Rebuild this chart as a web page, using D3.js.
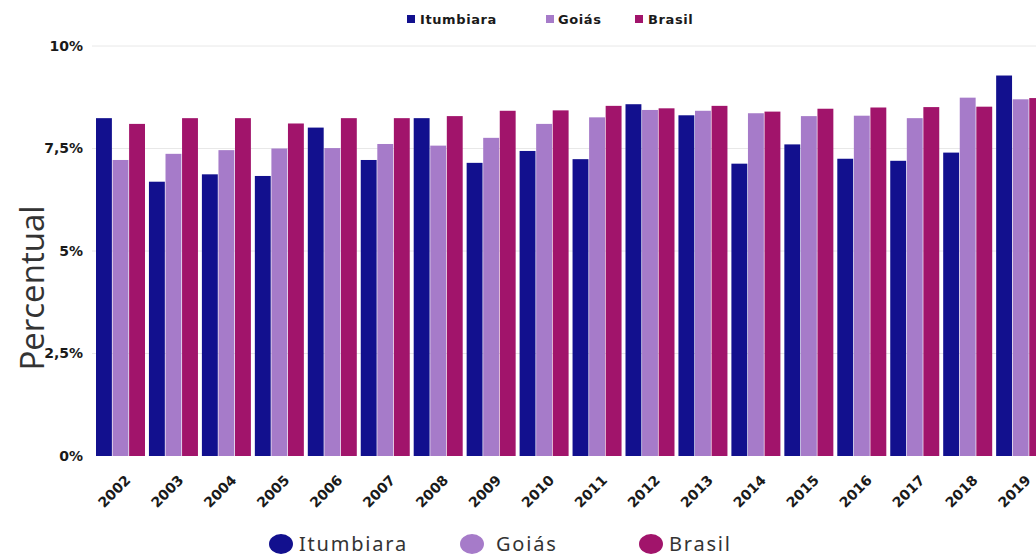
<!DOCTYPE html>
<html>
<head>
<meta charset="utf-8">
<script src="https://cdn.jsdelivr.net/npm/d3@7"></script>
<style>
  html, body { margin: 0; padding: 0; background: #ffffff; overflow: hidden; }
  svg { display: block; }
</style>
</head>
<body>
<svg id="chart" width="1036" height="557"></svg>
<script>
// Annual percentage by year for Itumbiara, Goiás and Brasil
const years = ["2002","2003","2004","2005","2006","2007","2008","2009","2010",
               "2011","2012","2013","2014","2015","2016","2017","2018","2019"];
const seriesNames = ["Itumbiara", "Goiás", "Brasil"];
const itumbiara = [8.24, 6.69, 6.87, 6.83, 8.01, 7.22, 8.24, 7.15, 7.44,
                   7.24, 8.58, 8.31, 7.13, 7.60, 7.25, 7.20, 7.40, 9.28];
const goias     = [7.22, 7.37, 7.46, 7.50, 7.51, 7.61, 7.57, 7.76, 8.10,
                   8.26, 8.44, 8.42, 8.36, 8.29, 8.30, 8.24, 8.74, 8.70];
const brasil    = [8.10, 8.24, 8.24, 8.11, 8.24, 8.24, 8.29, 8.42, 8.43,
                   8.54, 8.48, 8.54, 8.40, 8.47, 8.50, 8.51, 8.52, 8.73];
const yTicks = [0, 2.5, 5, 7.5, 10];
const yTickLabels = ["0%", "2,5%", "5%", "7,5%", "10%"];
const colors = ["#12108e", "#a67bc9", "#a1146b"];

const values = [itumbiara, goias, brasil];
const rows = years.map((yr, i) => ({
  year: yr,
  vals: seriesNames.map((s, k) => ({ key: s, value: values[k][i] }))
}));

const svg = d3.select("#chart");

// Plot area (the band range runs past the right edge of the canvas)
const left = 96, step = 52.95, groupW = 49;
const x0 = d3.scaleBand()
  .domain(years)
  .range([left, left + (years.length - 1) * step + groupW])
  .paddingInner((step - groupW) / step)
  .paddingOuter(0);
const x1 = d3.scaleBand()
  .domain(seriesNames)
  .range([0, x0.bandwidth()])
  .paddingInner(0.04);
const y = d3.scaleLinear().domain([0, 10]).range([456, 46]);
const color = d3.scaleOrdinal().domain(seriesNames).range(colors);

// Gridlines
svg.append("g")
  .selectAll("line")
  .data(yTicks.filter(t => t > 0))
  .join("line")
  .attr("x1", 92).attr("x2", 1036)
  .attr("y1", d => y(d)).attr("y2", d => y(d))
  .attr("stroke", "#e8e8e8").attr("stroke-width", 1);

// Y axis labels
const yAxis = d3.axisLeft(y)
  .tickValues(yTicks)
  .tickFormat((d, i) => yTickLabels[i])
  .tickSize(0)
  .tickPadding(0);
const gy = svg.append("g").attr("transform", "translate(83,0)").call(yAxis);
gy.select(".domain").remove();
gy.selectAll("text")
  .attr("fill", "#1a1a1a")
  .style("font-family", "'DejaVu Sans', sans-serif")
  .style("font-weight", "bold")
  .style("font-size", "14px");

// Bars
svg.append("g")
  .selectAll("g")
  .data(rows)
  .join("g")
  .attr("transform", d => `translate(${x0(d.year)},0)`)
  .selectAll("rect")
  .data(d => d.vals)
  .join("rect")
  .attr("x", d => x1(d.key))
  .attr("width", x1.bandwidth())
  .attr("y", d => y(d.value))
  .attr("height", d => y(0) - y(d.value))
  .attr("fill", d => color(d.key));

// X axis labels, rotated
const xAxis = d3.axisBottom(x0).tickSize(0).tickPadding(0);
const gx = svg.append("g").attr("transform", "translate(0,481)").call(xAxis);
gx.select(".domain").remove();
gx.selectAll("text")
  .attr("fill", "#1a1a1a")
  .attr("text-anchor", "end")
  .attr("y", 0)
  .attr("dy", "0")
  .attr("transform", "translate(11,0) rotate(-45)")
  .style("font-family", "'DejaVu Sans', sans-serif")
  .style("font-weight", "bold")
  .style("font-size", "14px");

// Y axis title
svg.append("text")
  .attr("transform", "translate(44,288) rotate(-90)")
  .attr("text-anchor", "middle")
  .attr("fill", "#333333")
  .style("font-family", "'Open Sans', sans-serif")
  .style("font-size", "33px")
  .text("Percentual");

// Top legend: small squares with bold labels
const topLegend = [
  { key: "Itumbiara", sq: 407, tx: 420 },
  { key: "Goiás", sq: 546, tx: 558 },
  { key: "Brasil", sq: 635, tx: 648 }
];
const tl = svg.append("g");
tl.selectAll("rect")
  .data(topLegend)
  .join("rect")
  .attr("x", d => d.sq).attr("y", 15)
  .attr("width", 8).attr("height", 8)
  .attr("fill", d => color(d.key));
tl.selectAll("text")
  .data(topLegend)
  .join("text")
  .attr("x", d => d.tx).attr("y", 24)
  .attr("fill", "#1a1a1a")
  .style("font-family", "'DejaVu Sans', sans-serif")
  .style("font-weight", "bold")
  .style("font-size", "13px")
  .style("letter-spacing", "0.6px")
  .text(d => d.key);

// Bottom legend: round markers with labels
const bottomLegend = [
  { key: "Itumbiara", cx: 281, tx: 299 },
  { key: "Goiás", cx: 472, tx: 496 },
  { key: "Brasil", cx: 651, tx: 669 }
];
const bl = svg.append("g");
bl.selectAll("ellipse")
  .data(bottomLegend)
  .join("ellipse")
  .attr("cx", d => d.cx).attr("cy", 544)
  .attr("rx", 12).attr("ry", 10)
  .attr("fill", d => color(d.key));
bl.selectAll("text")
  .data(bottomLegend)
  .join("text")
  .attr("x", d => d.tx).attr("y", 551)
  .attr("fill", "#333333")
  .style("font-family", "'Noto Sans', sans-serif")
  .style("font-size", "20px")
  .style("letter-spacing", "1.8px")
  .text(d => d.key);
</script>
</body>
</html>
